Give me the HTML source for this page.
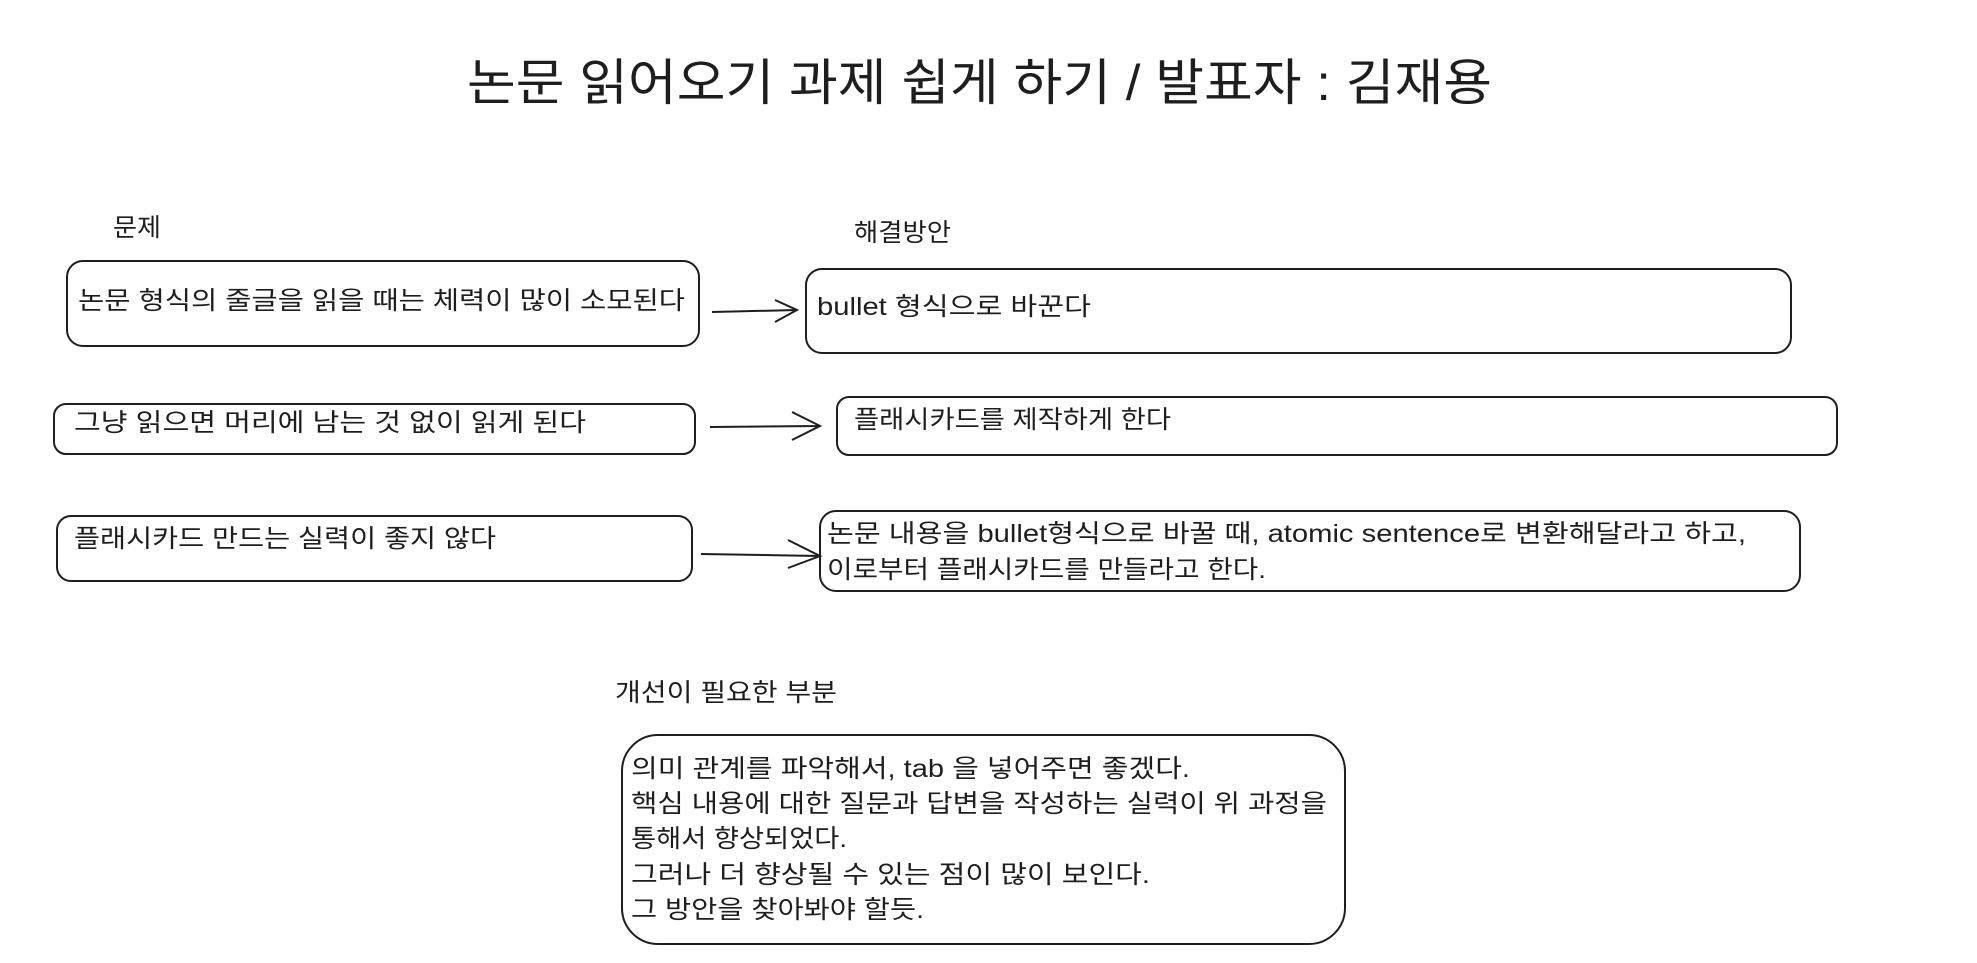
<!DOCTYPE html>
<html><head><meta charset="utf-8"><style>
html,body{margin:0;padding:0;background:#fff;}
svg{display:block;}
text{font-family:"Liberation Sans","Noto Sans CJK KR",sans-serif;fill:#1e1e1e;}
</style></head><body>
<svg width="1977" height="963" viewBox="0 0 1977 963" xmlns="http://www.w3.org/2000/svg">
<g fill="none" stroke="#1e1e1e" stroke-width="2">
<rect x="67" y="261" width="632" height="85" rx="16"/>
<rect x="806" y="269" width="985" height="84" rx="16"/>
<rect x="54" y="404" width="641" height="50" rx="12"/>
<rect x="837" y="397" width="1000" height="58" rx="12"/>
<rect x="57" y="516" width="635" height="65" rx="14"/>
<rect x="820" y="511" width="980" height="80" rx="16"/>
<rect x="622" y="735" width="723" height="209" rx="36"/>
<path d="M712 312 L797 310 M775 300 L797 310 L775 322"/>
<path d="M710 427 L820 426 M792 412 L820 426 L792 440"/>
<path d="M701 554 L820 556 M788 540 L820 556 L788 568"/>
</g>
<text x="467" y="100" font-size="50" textLength="1025" lengthAdjust="spacingAndGlyphs">논문 읽어오기 과제 쉽게 하기 / 발표자 : 김재용</text>
<text x="113" y="236" font-size="25" textLength="48" lengthAdjust="spacingAndGlyphs">문제</text>
<text x="854" y="241" font-size="25" textLength="97" lengthAdjust="spacingAndGlyphs">해결방안</text>
<text x="78" y="309" font-size="25" textLength="607" lengthAdjust="spacingAndGlyphs">논문 형식의 줄글을 읽을 때는 체력이 많이 소모된다</text>
<text x="817" y="315" font-size="25" textLength="274" lengthAdjust="spacingAndGlyphs">bullet 형식으로 바꾼다</text>
<text x="74" y="431" font-size="25" textLength="512" lengthAdjust="spacingAndGlyphs">그냥 읽으면 머리에 남는 것 없이 읽게 된다</text>
<text x="854" y="428" font-size="25" textLength="317" lengthAdjust="spacingAndGlyphs">플래시카드를 제작하게 한다</text>
<text x="74" y="547" font-size="25" textLength="422" lengthAdjust="spacingAndGlyphs">플래시카드 만드는 실력이 좋지 않다</text>
<text x="827" y="542" font-size="25" textLength="919" lengthAdjust="spacingAndGlyphs">논문 내용을 bullet형식으로 바꿀 때, atomic sentence로 변환해달라고 하고,</text>
<text x="827" y="578" font-size="25" textLength="439" lengthAdjust="spacingAndGlyphs">이로부터 플래시카드를 만들라고 한다.</text>
<text x="615" y="701" font-size="25" textLength="222" lengthAdjust="spacingAndGlyphs">개선이 필요한 부분</text>
<text x="631" y="777" font-size="25" textLength="559" lengthAdjust="spacingAndGlyphs">의미 관계를 파악해서, tab 을 넣어주면 좋겠다.</text>
<text x="631" y="812" font-size="25" textLength="696" lengthAdjust="spacingAndGlyphs">핵심 내용에 대한 질문과 답변을 작성하는 실력이 위 과정을</text>
<text x="631" y="847" font-size="25" textLength="216" lengthAdjust="spacingAndGlyphs">통해서 향상되었다.</text>
<text x="631" y="883" font-size="25" textLength="519" lengthAdjust="spacingAndGlyphs">그러나 더 향상될 수 있는 점이 많이 보인다.</text>
<text x="631" y="918" font-size="25" textLength="293" lengthAdjust="spacingAndGlyphs">그 방안을 찾아봐야 할듯.</text>
</svg>
</body></html>
